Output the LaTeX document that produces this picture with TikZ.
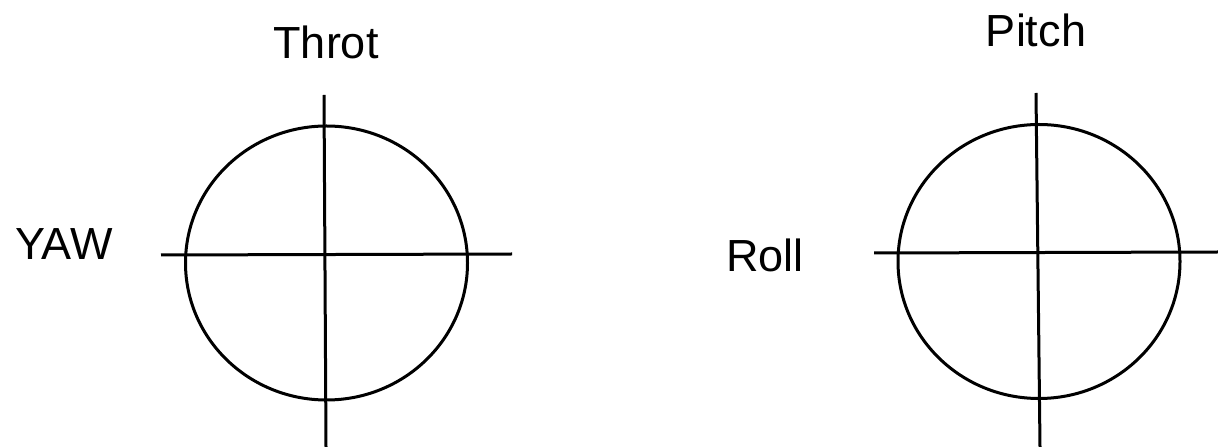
\documentclass[tikz,border=0pt]{standalone}
\usepackage{fontspec}
\setmainfont{Liberation Sans}
\usetikzlibrary{shapes.geometric}
\begin{document}
\begin{tikzpicture}[x=1pt,y=1pt,
  lbl/.style={font=\fontsize{45}{50}\selectfont, inner sep=0pt, anchor=base},
  ring/.style={draw, line width=3pt, ellipse, minimum width=282pt, minimum height=274pt, inner sep=0pt},
  axis/.style={line width=3pt}]
\useasboundingbox (0,0) rectangle (1218,447);
% left stick
\node[ring] (c1) at (326.5,184) {};
\coordinate (v1t) at (324,352);
\coordinate (v1b) at (326,0);
\coordinate (h1l) at (161,192);
\coordinate (h1r) at (512,193);
\draw[axis] (v1t) -- (v1b);
\draw[axis] (h1l) -- (h1r);
\node[lbl] (throt) at (326,388) {Throt};
\node[lbl] (yaw) at (64,187) {YAW};
% right stick
\node[ring] (c2) at (1039,185.5) {};
\coordinate (v2t) at (1036,354);
\coordinate (v2b) at (1040,0);
\coordinate (h2l) at (874,194);
\coordinate (h2r) at (1218,195);
\draw[axis] (v2t) -- (v2b);
\draw[axis] (h2l) -- (h2r);
\node[lbl] (pitch) at (1036,400) {Pitch};
\node[lbl] (roll) at (765,175) {Roll};
\end{tikzpicture}
\end{document}
